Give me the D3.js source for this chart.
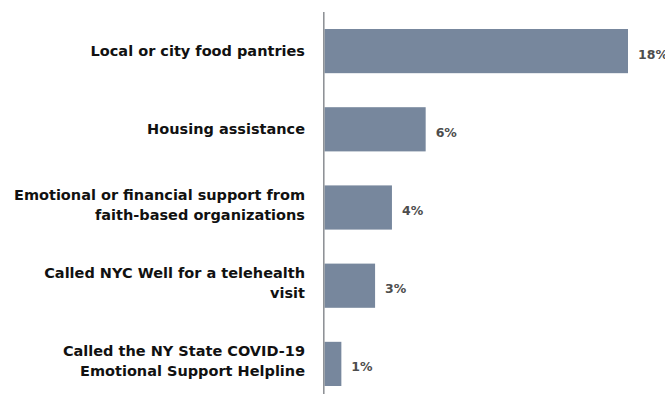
<!DOCTYPE html>
<html>
<head>
<meta charset="utf-8">
<script src="https://cdn.jsdelivr.net/npm/d3@7"></script>
<style>
  html, body { margin: 0; padding: 0; background: #fff; }
  svg { display: block; }
  text { font-family: "DejaVu Sans", "Noto Sans", sans-serif; font-weight: 700; }
</style>
</head>
<body>
<svg id="chart" width="665" height="394"></svg>
<script>
// Share of respondents using each support resource
const categories = [
  ["Local or city food pantries"],
  ["Housing assistance"],
  ["Emotional or financial support from", "faith-based organizations"],
  ["Called NYC Well for a telehealth", "visit"],
  ["Called the NY State COVID-19", "Emotional Support Helpline"]
];
const values = [18, 6, 4, 3, 1];
const valueLabels = ["18%", "6%", "4%", "3%", "1%"];

const svg = d3.select("#chart");
const W = 665, H = 394;
const axisX = 324.5;

const x = d3.scaleLinear().domain([0, 18]).range([axisX, 628]);
const y = d3.scaleBand()
  .domain(d3.range(values.length))
  .range([29, 386])
  .paddingInner(0.435)
  .paddingOuter(0);

// bars
svg.selectAll("rect.bar")
  .data(values)
  .join("rect")
  .attr("class", "bar")
  .attr("x", x(0))
  .attr("y", (d, i) => y(i))
  .attr("width", d => x(d) - x(0))
  .attr("height", y.bandwidth())
  .attr("fill", "#77879d");

// vertical baseline
svg.append("line")
  .attr("x1", 323.8).attr("x2", 323.8)
  .attr("y1", 12).attr("y2", H)
  .attr("stroke", "#8a8d92")
  .attr("stroke-width", 1.5);

// value labels
svg.selectAll("text.val")
  .data(values)
  .join("text")
  .attr("class", "val")
  .attr("x", d => x(d) + 10)
  .attr("y", (d, i) => y(i) + y.bandwidth() / 2 + 3)
  .attr("dy", "0.36em")
  .attr("fill", "#4d4d4d")
  .attr("font-size", 12.5)
  .text((d, i) => valueLabels[i]);

// category labels
const lineH = 20;
const cat = svg.selectAll("text.cat")
  .data(categories)
  .join("text")
  .attr("class", "cat")
  .attr("text-anchor", "end")
  .attr("fill", "#111")
  .attr("font-size", 14.5)
  .attr("x", 305)
  .attr("y", (d, i) => y(i) + y.bandwidth() / 2 + (d.length === 1 ? 4.5 : 2.4) - (d.length - 1) * lineH / 2)
  .attr("dy", "0.36em");

cat.selectAll("tspan")
  .data(d => d)
  .join("tspan")
  .attr("x", 305)
  .attr("dy", (d, j) => j === 0 ? 0 : lineH)
  .text(d => d);
</script>
</body>
</html>
